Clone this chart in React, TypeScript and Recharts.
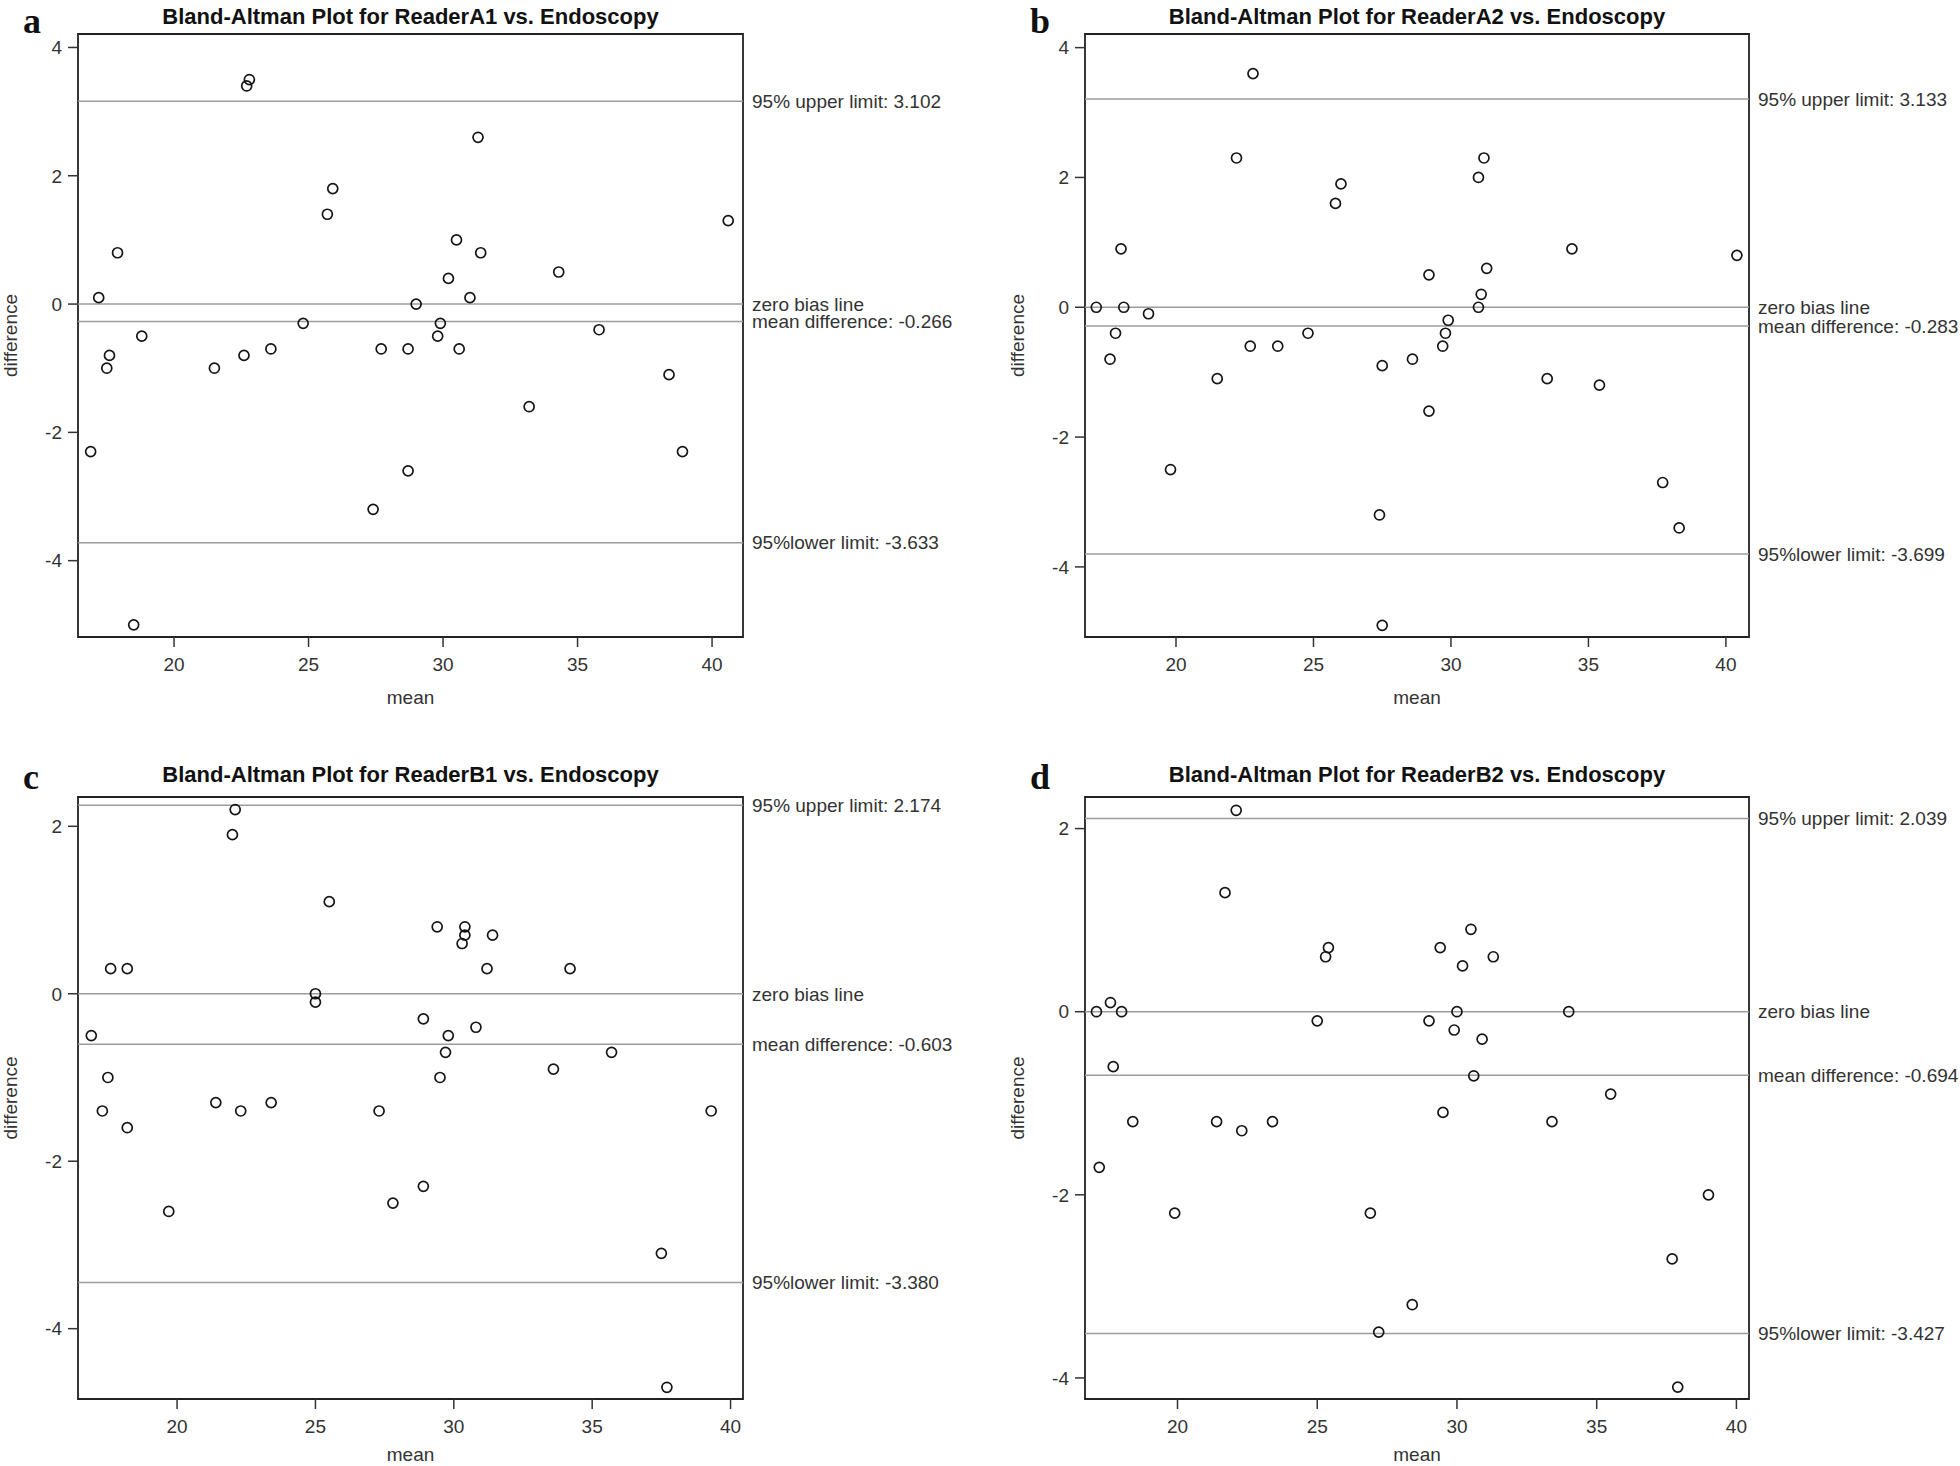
import React from "react";
import {
  ReferenceArea,
  ReferenceLine,
  Scatter,
  ScatterChart,
  XAxis,
  YAxis
} from "recharts";

// ---- data ----
const meanA1 = [16.9, 17.2, 17.5, 17.6, 17.9, 18.5, 18.8, 21.5, 22.6, 22.7, 22.8, 23.6, 24.8, 25.7, 25.9, 27.4, 27.7, 28.7, 28.7, 29.0, 29.8, 29.9, 30.2, 30.5, 30.6, 31.0, 31.3, 31.4, 33.2, 34.3, 35.8, 38.4, 38.9, 40.6];
const diffA1 = [-2.3, 0.1, -1.0, -0.8, 0.8, -5.0, -0.5, -1.0, -0.8, 3.4, 3.5, -0.7, -0.3, 1.4, 1.8, -3.2, -0.7, -0.7, -2.6, 0, -0.5, -0.3, 0.4, 1.0, -0.7, 0.1, 2.6, 0.8, -1.6, 0.5, -0.4, -1.1, -2.3, 1.3];

const meanA2 = [17.1, 17.6, 17.8, 18.0, 18.1, 19.0, 19.8, 21.5, 22.2, 22.7, 22.8, 23.7, 24.8, 25.8, 26.0, 27.4, 27.5, 27.5, 28.6, 29.2, 29.2, 29.7, 29.8, 29.9, 31.0, 31.0, 31.1, 31.2, 31.3, 33.5, 34.4, 35.4, 37.7, 38.3, 40.4];
const diffA2 = [0, -0.8, -0.4, 0.9, 0, -0.1, -2.5, -1.1, 2.3, -0.6, 3.6, -0.6, -0.4, 1.6, 1.9, -3.2, -0.9, -4.9, -0.8, 0.5, -1.6, -0.6, -0.4, -0.2, 2.0, 0, 0.2, 2.3, 0.6, -1.1, 0.9, -1.2, -2.7, -3.4, 0.8];

const meanB1 = [16.9, 17.3, 17.5, 17.6, 18.2, 18.2, 19.7, 21.4, 22.0, 22.1, 22.3, 23.4, 25.0, 25.0, 25.5, 27.3, 27.8, 28.9, 28.9, 29.4, 29.5, 29.7, 29.8, 30.3, 30.4, 30.4, 30.8, 31.2, 31.4, 33.6, 34.2, 35.7, 37.5, 37.7, 39.3];
const diffB1 = [-0.5, -1.4, -1.0, 0.3, 0.3, -1.6, -2.6, -1.3, 1.9, 2.2, -1.4, -1.3, -0.1, 0, 1.1, -1.4, -2.5, -0.3, -2.3, 0.8, -1.0, -0.7, -0.5, 0.6, 0.7, 0.8, -0.4, 0.3, 0.7, -0.9, 0.3, -0.7, -3.1, -4.7, -1.4];

const meanB2 = [17.1, 17.2, 17.6, 17.7, 18.0, 18.4, 19.9, 21.4, 21.7, 22.1, 22.3, 23.4, 25.0, 25.3, 25.4, 26.9, 27.2, 28.4, 29.0, 29.4, 29.5, 29.9, 30.0, 30.2, 30.5, 30.6, 30.9, 31.3, 33.4, 34.0, 35.5, 37.7, 37.9, 39.0];
const diffB2 = [0, -1.7, 0.1, -0.6, 0, -1.2, -2.2, -1.2, 1.3, 2.2, -1.3, -1.2, -0.1, 0.6, 0.7, -2.2, -3.5, -3.2, -0.1, 0.7, -1.1, -0.2, 0, 0.5, 0.9, -0.7, -0.3, 0.6, -1.2, 0, -0.9, -2.7, -4.1, -2.0];

// reference lines (upper limit, zero, mean diff, lower limit) and their labels
const linesA1 = [3.16, 0, -0.27, -3.72];
const labelsA1 = ["95% upper limit: 3.102", "zero bias line", "mean difference: -0.266", "95%lower limit: -3.633"];
const linesA2 = [3.21, 0, -0.29, -3.8];
const labelsA2 = ["95% upper limit: 3.133", "zero bias line", "mean difference: -0.283", "95%lower limit: -3.699"];
const linesB1 = [2.25, 0, -0.603, -3.45];
const labelsB1 = ["95% upper limit: 2.174", "zero bias line", "mean difference: -0.603", "95%lower limit: -3.380"];
const linesB2 = [2.11, 0, -0.694, -3.515];
const labelsB2 = ["95% upper limit: 2.039", "zero bias line", "mean difference: -0.694", "95%lower limit: -3.427"];

const xTicks = [20, 25, 30, 35, 40];
const yTicksTop = [-4, -2, 0, 2, 4];
const yTicksBottom = [-4, -2, 0, 2];

const FONT = "'Liberation Sans', Arial, Helvetica, sans-serif";
const TXT = "#333";

const Ring = (props: any) => {
  if (props.cx == null || props.cy == null) return null;
  return <circle cx={props.cx} cy={props.cy} r={5} fill="none" stroke="#151515" strokeWidth={1.7} />;
};

interface PanelProps {
  px: number; py: number; w: number; h: number;
  box: { left: number; right: number; top: number; bottom: number };
  titleY: number; letterY: number; meanY: number;
  letter: string; title: string;
  mean: number[]; diff: number[];
  lines: number[]; labels: string[];
  xDomain: [number, number]; yDomain: [number, number];
  yTicks: number[];
}

const Panel: React.FC<PanelProps> = ({ px, py, w, h, box, titleY, letterY, meanY, letter, title, mean, diff, lines, labels, xDomain, yDomain, yTicks }) => {
  const data = mean.map((m, i) => ({ mean: m, diff: diff[i] }));
  const xAxisH = 60;
  const margin = {
    top: box.top - py,
    right: w - (box.right - px),
    bottom: h - (box.bottom - py) - xAxisH,
    left: 0
  };
  const cx = (box.left + box.right) / 2;
  const cy = (box.top + box.bottom) / 2;

  return (
    <>
      <div style={{ position: "absolute", left: px, top: py }}>
        <ScatterChart width={w} height={h} margin={margin}>
          <XAxis
            type="number"
            dataKey="mean"
            domain={xDomain}
            allowDataOverflow
            ticks={xTicks}
            height={xAxisH}
            axisLine={false}
            tickSize={10}
            tickMargin={11}
            tickLine={{ stroke: "#333", strokeWidth: 1.5 }}
            tick={{ fill: TXT, fontSize: 19, fontFamily: FONT }}
          />
          <YAxis
            type="number"
            dataKey="diff"
            domain={yDomain}
            allowDataOverflow
            ticks={yTicks}
            width={box.left - px}
            axisLine={false}
            tickSize={10}
            tickMargin={6}
            tickLine={{ stroke: "#333", strokeWidth: 1.5 }}
            tick={{ fill: TXT, fontSize: 19, fontFamily: FONT }}
          />
          {lines.map((v, i) => (
            <ReferenceLine
              key={i}
              y={v}
              stroke="#9c9c9c"
              strokeWidth={1.5}
              label={{ value: labels[i], position: "right", offset: 9, fill: TXT, fontSize: 19, fontFamily: FONT }}
            />
          ))}
          <ReferenceArea
            x1={xDomain[0]}
            x2={xDomain[1]}
            y1={yDomain[0]}
            y2={yDomain[1]}
            fill="none"
            fillOpacity={0}
            stroke="#222"
            strokeWidth={1.8}
            ifOverflow="visible"
          />
          <Scatter data={data} isAnimationActive={false} shape={Ring} />
        </ScatterChart>
      </div>
      <svg style={{ position: "absolute", left: 0, top: 0, overflow: "visible", pointerEvents: "none" }} width={1} height={1}>
        <text x={box.left - 55} y={letterY} fontFamily="'Liberation Serif', 'Times New Roman', serif" fontWeight="bold" fontSize={36} fill="#111">
          {letter}
        </text>
        <text x={cx} y={titleY} textAnchor="middle" fontFamily={FONT} fontWeight="bold" fontSize={22} fill="#111">
          {title}
        </text>
        <text transform={`translate(${box.left - 61}, ${cy}) rotate(-90)`} textAnchor="middle" fontFamily={FONT} fontSize={19} fill={TXT}>
          difference
        </text>
        <text x={cx} y={meanY} textAnchor="middle" fontFamily={FONT} fontSize={19} fill={TXT}>
          mean
        </text>
      </svg>
    </>
  );
};

export default function App() {
  return (
    <div style={{ position: "absolute", left: 0, top: 0, width: 1960, height: 1466, background: "#fff", overflow: "hidden" }}>
      <Panel
        px={0} py={0} w={1000} h={740}
        box={{ left: 78, right: 743, top: 34, bottom: 637 }}
        titleY={24} letterY={33} meanY={704}
        letter="a" title="Bland-Altman Plot for ReaderA1 vs. Endoscopy"
        mean={meanA1} diff={diffA1} lines={linesA1} labels={labelsA1}
        xDomain={[16.43, 41.15]} yDomain={[-5.19, 4.21]} yTicks={yTicksTop}
      />
      <Panel
        px={1000} py={0} w={960} h={740}
        box={{ left: 1085, right: 1749, top: 34, bottom: 637 }}
        titleY={24} letterY={33} meanY={704}
        letter="b" title="Bland-Altman Plot for ReaderA2 vs. Endoscopy"
        mean={meanA2} diff={diffA2} lines={linesA2} labels={labelsA2}
        xDomain={[16.69, 40.84]} yDomain={[-5.08, 4.21]} yTicks={yTicksTop}
      />
      <Panel
        px={0} py={760} w={1000} h={706}
        box={{ left: 78, right: 743, top: 797, bottom: 1399 }}
        titleY={782} letterY={789} meanY={1461}
        letter="c" title="Bland-Altman Plot for ReaderB1 vs. Endoscopy"
        mean={meanB1} diff={diffB1} lines={linesB1} labels={labelsB1}
        xDomain={[16.42, 40.45]} yDomain={[-4.84, 2.35]} yTicks={yTicksBottom}
      />
      <Panel
        px={1000} py={760} w={960} h={706}
        box={{ left: 1085, right: 1749, top: 797, bottom: 1399 }}
        titleY={782} letterY={789} meanY={1461}
        letter="d" title="Bland-Altman Plot for ReaderB2 vs. Endoscopy"
        mean={meanB2} diff={diffB2} lines={linesB2} labels={labelsB2}
        xDomain={[16.69, 40.45]} yDomain={[-4.23, 2.345]} yTicks={yTicksBottom}
      />
    </div>
  );
}
